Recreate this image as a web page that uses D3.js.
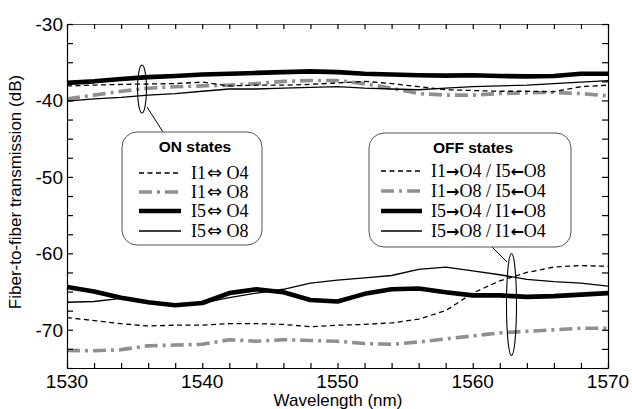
<!DOCTYPE html>
<html><head><meta charset="utf-8">
<script src="https://cdn.jsdelivr.net/npm/d3@7/dist/d3.min.js"></script>
<style>body{margin:0;background:#fff}svg{display:block}</style>
</head><body>
<svg id="c" width="632" height="409"></svg>
<script>
// ---- data ----
const wavelength = [1530,1532,1534,1536,1538,1540,1542,1544,1546,1548,1550,1552,1554,1556,1558,1560,1562,1564,1566,1568,1570];
const onI1O4 = [-38.1,-38.0,-37.9,-37.85,-37.8,-37.6,-38.1,-38.0,-38.0,-37.9,-37.7,-37.5,-37.8,-38.2,-38.6,-38.7,-38.8,-38.8,-38.85,-38.2,-38.0];
const onI1O8 = [-39.8,-39.3,-38.8,-38.4,-38.2,-38.1,-38.0,-37.8,-37.5,-37.4,-37.4,-37.8,-38.4,-39.1,-39.3,-39.3,-39.1,-39.0,-38.95,-39.1,-39.4];
const onI5O4 = [-37.7,-37.5,-37.2,-36.95,-36.8,-36.6,-36.5,-36.4,-36.3,-36.2,-36.3,-36.5,-36.6,-36.7,-36.75,-36.7,-36.8,-36.85,-36.8,-36.5,-36.5];
const onI5O8 = [-40.1,-39.8,-39.6,-39.3,-39.1,-38.8,-38.5,-38.5,-38.4,-38.3,-38.2,-38.4,-38.5,-38.6,-38.4,-38.2,-38.1,-38.0,-37.8,-37.6,-37.4];
const offI1O4 = [-68.4,-68.8,-69.2,-69.5,-69.4,-69.4,-69.2,-69.2,-69.3,-69.6,-69.4,-69.3,-69.1,-68.6,-67.5,-65.2,-63.6,-62.5,-61.8,-61.6,-61.7];
const offI1O8 = [-72.7,-72.75,-72.6,-72.1,-72.0,-71.9,-71.3,-71.5,-71.3,-71.4,-71.5,-71.8,-71.9,-71.6,-71.2,-70.8,-70.4,-70.2,-70.0,-69.8,-69.8];
const offI5O4 = [-64.4,-65.0,-65.8,-66.4,-66.8,-66.5,-65.2,-64.7,-65.1,-66.1,-66.3,-65.3,-64.7,-64.6,-65.1,-65.5,-65.5,-65.7,-65.6,-65.4,-65.2];
const offI5O8 = [-66.4,-66.3,-65.9,-66.5,-66.7,-66.5,-65.8,-65.2,-64.7,-63.9,-63.5,-63.2,-62.9,-62.1,-61.8,-62.3,-62.8,-63.4,-63.7,-63.9,-64.3];
const xTickLabels = [1530,1540,1550,1560,1570];
const yTickLabels = [-30,-40,-50,-60,-70];
const onLabels = ["I1\u21D4 O4","I1\u21D4 O8","I5\u21D4 O4","I5\u21D4 O8"];
const offLabels = ["I1\u2192O4 / I5\u2190O8","I1\u2192O8 / I5\u2190O4","I5\u2192O4 / I1\u2190O8","I5\u2192O8 / I1\u2190O4"];

// ---- styles ----
const styles = [
  {stroke:"#000", width:1.3, dash:"5,3.5"},
  {stroke:"#8f8f8f", width:3.6, dash:"13,5,3,5"},
  {stroke:"#000", width:4.6, dash:null},
  {stroke:"#000", width:1.3, dash:null}
];

const svg = d3.select("#c");
const L=67, R=608, T=24, B=368;
const x = d3.scaleLinear().domain([1530,1570]).range([L,R]);
const y = d3.scaleLinear().domain([-75,-30]).range([B,T]);

const line = d3.line().x((d,i)=>x(wavelength[i])).y(d=>y(d));
const onSeries=[onI1O4,onI1O8,onI5O4,onI5O8];
const offSeries=[offI1O4,offI1O8,offI5O4,offI5O8];
const drawOrder=[1,0,3,2];
[offSeries,onSeries].forEach(ser=>{
  drawOrder.forEach(k=>{
    const s=styles[k];
    svg.append("path").attr("d",line(ser[k])).attr("fill","none")
      .attr("stroke",s.stroke).attr("stroke-width",s.width)
      .attr("stroke-dasharray",s.dash).attr("stroke-linejoin","round");
  });
});

// ---- axes ----
const font="Liberation Sans, Arial, sans-serif";
const xt=d3.range(1530,1571,2), yt=d3.range(-75,-29.9,2.5);
const axB=svg.append("g").attr("transform",`translate(0,${B})`)
  .call(d3.axisBottom(x).tickValues(xt).tickSizeInner(-5).tickSizeOuter(0).tickFormat(""));
const axT=svg.append("g").attr("transform",`translate(0,${T})`)
  .call(d3.axisTop(x).tickValues(xt).tickSizeInner(-5).tickSizeOuter(0).tickFormat(""));
const axL=svg.append("g").attr("transform",`translate(${L},0)`)
  .call(d3.axisLeft(y).tickValues(yt).tickSizeInner(-6).tickSizeOuter(0).tickFormat(""));
const axR=svg.append("g").attr("transform",`translate(${R},0)`)
  .call(d3.axisRight(y).tickValues(yt).tickSizeInner(-6).tickSizeOuter(0).tickFormat(""));
[axB,axT,axL,axR].forEach(a=>{a.selectAll("path,line").attr("stroke","#000").attr("stroke-width",1.2);});
axT.select("path").attr("stroke","#555");

svg.append("g").selectAll("text").data(xTickLabels).join("text")
  .attr("x",d=>x(d)).attr("y",388).attr("text-anchor","middle")
  .attr("font-family",font).attr("font-size",19).text(d=>d);
svg.append("g").selectAll("text").data(yTickLabels).join("text")
  .attr("x",63).attr("y",d=>y(d)+7).attr("text-anchor","end")
  .attr("font-family",font).attr("font-size",19).text(d=>d);

svg.append("text").attr("x",338).attr("y",406).attr("text-anchor","middle")
  .attr("font-family",font).attr("font-size",17).text("Wavelength (nm)");
svg.append("text").attr("transform","translate(21,192) rotate(-90)").attr("text-anchor","middle")
  .attr("font-family",font).attr("font-size",17).text("Fiber-to-fiber transmission (dB)");

// ---- annotations ----
function ann(cx,cy,rx,ry,x1,y1,x2,y2){
  svg.append("line").attr("x1",x1).attr("y1",y1).attr("x2",x2).attr("y2",y2).attr("stroke","#000").attr("stroke-width",1);
  svg.append("ellipse").attr("cx",cx).attr("cy",cy).attr("rx",rx).attr("ry",ry)
    .attr("fill","none").attr("stroke","#000").attr("stroke-width",1.1);
}
ann(142,89,4.5,24,147,107,163,132);
ann(511.5,304.5,5,51,492,247,507,262);

// ---- legends ----
const arrowChars = /([\u21D4\u2192\u2190])/;
function legend(bx,by,bw,bh,title,labels,lx1,lx2,tx,rowY){
  const g=svg.append("g");
  g.append("rect").attr("x",bx).attr("y",by).attr("width",bw).attr("height",bh)
    .attr("rx",15).attr("fill","#fff").attr("stroke","#555").attr("stroke-width",1);
  g.append("text").attr("x",bx+bw/2+3).attr("y",by+20).attr("text-anchor","middle")
    .attr("font-family",font).attr("font-weight","bold").attr("font-size",15.5).text(title);
  labels.forEach((lab,i)=>{
    const s=styles[i], yy=rowY[i];
    g.append("line").attr("x1",lx1).attr("x2",lx2).attr("y1",yy).attr("y2",yy)
      .attr("stroke",s.stroke).attr("stroke-width",s.width).attr("stroke-dasharray",s.dash);
    const t=g.append("text").attr("x",tx).attr("y",yy+6)
      .attr("font-family","Liberation Serif, Times New Roman, serif").attr("font-size",18);
    lab.split(arrowChars).forEach(part=>{
      if(!part) return;
      if(arrowChars.test(part)){
        const ts=t.append("tspan").attr("font-family","DejaVu Sans").text(part);
        if(part==="\u21D4") ts.attr("font-size",18).attr("dx",1);
        else ts.attr("font-size",16).attr("font-weight","bold");
      } else t.append("tspan").text(part);
    });
  });
}
legend(122,132,140,113,"ON states",onLabels,139,181,191,[173,192,211,231]);
legend(369,133,202,114,"OFF states",offLabels,381,422,431,[171,191,211,231]);
</script>
</body></html>
